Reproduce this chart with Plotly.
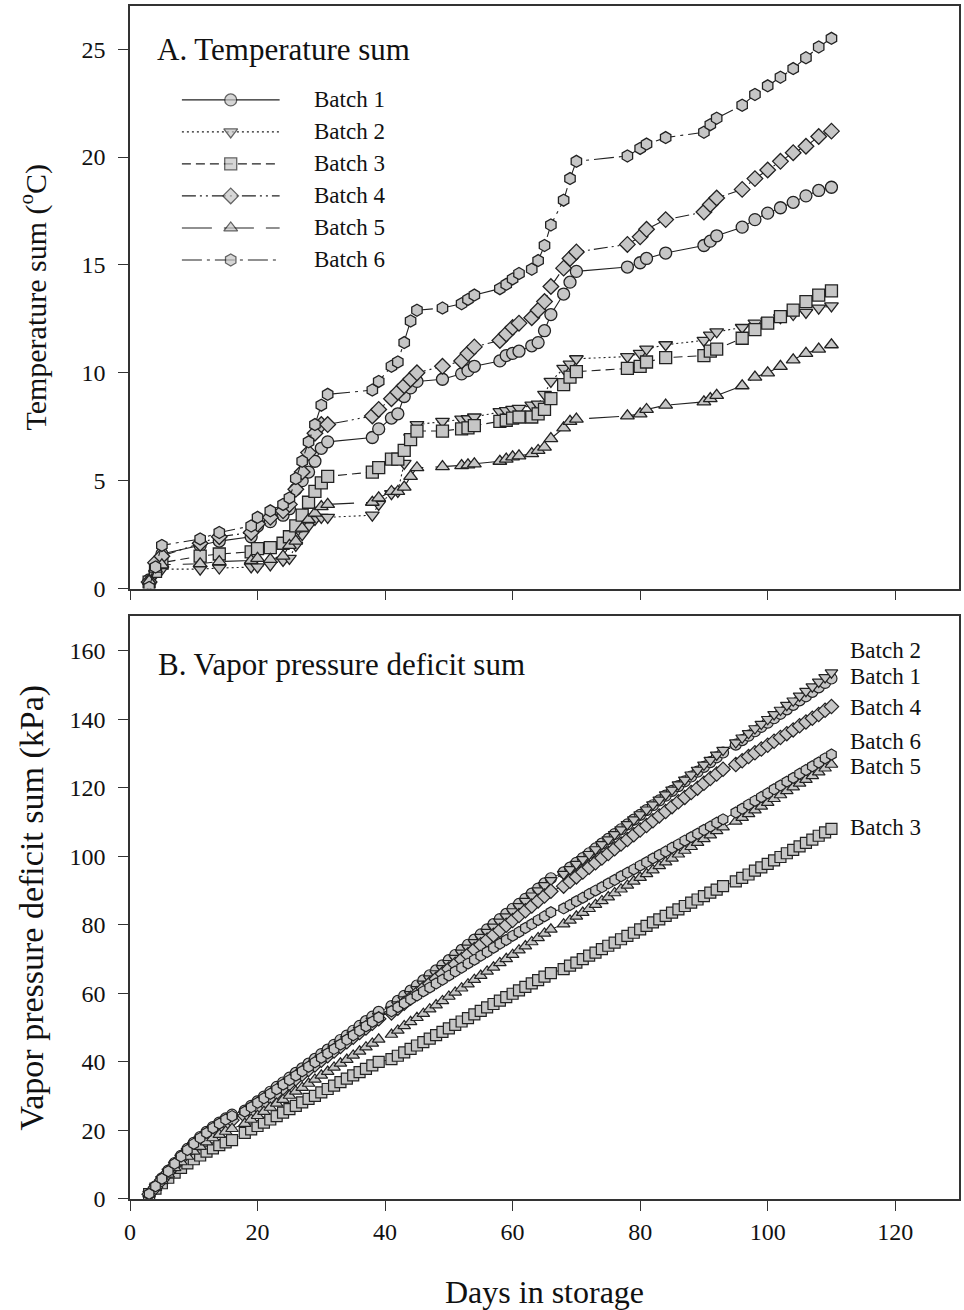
import plotly.graph_objects as go

# ---------------- Panel A data (temperature sum, °C) ----------------
days_a = [3, 4, 5, 11, 14, 19, 20, 22, 24, 25, 26, 27, 28, 29, 30, 31, 38, 39, 41, 42, 43, 44, 45,
          49, 52, 53, 54, 58, 59, 60, 61, 63, 64, 65, 66, 68, 69, 70, 78, 80, 81, 84, 90, 91, 92,
          96, 98, 100, 102, 104, 106, 108, 110]

ts_b1 = [0.4, 1.1, 1.6, 2.0, 2.2, 2.4, 2.9, 3.1, 3.4, 3.7, 4.6, 5.0, 5.4, 5.9, 6.5, 6.8, 7.0, 7.4, 7.9, 8.1, 8.9, 9.3, 9.6,
         9.7, 9.95, 10.1, 10.3, 10.55, 10.8, 10.9, 11.0, 11.25, 11.4, 11.95, 12.7, 13.65, 14.2, 14.7, 14.9, 15.1, 15.3, 15.55,
         15.9, 16.1, 16.35, 16.75, 17.1, 17.4, 17.65, 17.9, 18.2, 18.45, 18.6]
ts_b2 = [0.2, 0.7, 0.9, 0.9, 0.95, 1.0, 1.0, 1.1, 1.3, 1.4, 2.0, 2.5, 2.9, 3.2, 3.3, 3.3, 3.4, 3.9, 4.4, 4.5, 5.8, 7.0, 7.6,
         7.75, 7.85, 7.87, 7.95, 8.2, 8.25, 8.3, 8.35, 8.5, 8.55, 9.0, 9.6, 10.2, 10.4, 10.65, 10.75, 10.9, 11.1, 11.3,
         11.5, 11.75, 11.9, 12.1, 12.3, 12.4, 12.55, 12.7, 12.8, 13.0, 13.1]
ts_b3 = [0.3, 0.8, 1.2, 1.5, 1.6, 1.7, 1.85, 1.9, 2.1, 2.4, 2.9, 3.4, 4.0, 4.5, 4.9, 5.2, 5.4, 5.6, 6.0, 6.0, 6.4, 6.9, 7.3,
         7.3, 7.4, 7.45, 7.55, 7.75, 7.8, 7.9, 7.95, 7.95, 8.1, 8.3, 8.8, 9.45, 9.8, 10.05, 10.2, 10.3, 10.5, 10.7,
         10.8, 11.0, 11.1, 11.6, 12.0, 12.3, 12.6, 12.9, 13.3, 13.6, 13.8]
ts_b4 = [0.3, 1.2, 1.5, 2.1, 2.4, 2.6, 3.0, 3.3, 3.6, 3.9, 4.6, 5.4, 6.3, 7.2, 7.6, 7.6, 8.0, 8.3, 8.8, 9.1, 9.4, 9.7, 10.0,
         10.3, 10.55, 10.9, 11.2, 11.5, 11.8, 12.1, 12.3, 12.55, 12.9, 13.3, 14.0, 14.85, 15.3, 15.6, 15.95, 16.3, 16.65, 17.1,
         17.45, 17.8, 18.1, 18.5, 19.0, 19.4, 19.8, 20.2, 20.5, 20.95, 21.2]
ts_b5 = [0.35, 0.9, 1.1, 1.15, 1.25, 1.3, 1.4, 1.35, 1.5, 2.0, 2.2, 2.8, 3.2, 3.5, 3.8, 3.9, 4.0, 4.2, 4.5, 4.5, 4.7, 5.2, 5.6,
         5.65, 5.7, 5.73, 5.78, 5.9, 6.0, 6.1, 6.15, 6.25, 6.4, 6.55, 6.95, 7.45, 7.75, 7.85, 8.0, 8.1, 8.3, 8.5,
         8.65, 8.8, 8.95, 9.4, 9.8, 10.0, 10.3, 10.6, 10.9, 11.1, 11.3]
ts_b6 = [0.05, 1.0, 2.0, 2.3, 2.6, 2.9, 3.3, 3.6, 3.9, 4.2, 5.1, 5.9, 6.8, 7.6, 8.5, 9.0, 9.2, 9.6, 10.3, 10.5, 11.4, 12.4, 12.9,
         13.0, 13.2, 13.4, 13.6, 13.9, 14.1, 14.35, 14.6, 14.8, 15.2, 15.9, 16.85, 18.0, 19.0, 19.8, 20.05, 20.4, 20.6, 20.9,
         21.15, 21.5, 21.8, 22.4, 22.9, 23.3, 23.7, 24.1, 24.6, 25.1, 25.5]

# ---------------- Panel B data (VPD sum, kPa) ----------------
days_b = (list(range(3, 17)) + list(range(18, 40)) + list(range(41, 67)) +
          list(range(68, 94)) + list(range(95, 111)))

vpd_b1 = [1.5, 3.7, 6.0, 8.3, 10.5, 12.6, 14.6, 16.4, 18.1, 19.6, 21.0, 22.3, 23.5, 24.6,
          25.8, 27.2, 28.5, 29.9, 31.3, 32.7, 34.0, 35.4, 36.8, 38.1, 39.5, 40.9, 42.3, 43.6, 45.0, 46.4, 47.7, 49.1, 50.5, 51.9, 53.2, 54.6,
          56.3, 57.8, 59.3, 60.8, 62.3, 63.8, 65.3, 66.7, 68.2, 69.7, 71.2, 72.7, 74.2, 75.7, 77.2, 78.7, 80.2, 81.7, 83.2, 84.7, 86.1, 87.6, 89.1, 90.6, 92.1, 93.6,
          95.3, 96.7, 98.1, 99.5, 100.9, 102.3, 103.7, 105.1, 106.5, 107.9, 109.3, 110.7, 112.1, 113.5, 114.9, 116.3, 117.7, 119.1, 120.5, 121.9, 123.3, 124.7, 126.1, 127.5, 128.9, 130.3,
          132.6, 133.9, 135.2, 136.5, 137.8, 139.0, 140.3, 141.6, 142.9, 144.2, 145.5, 146.7, 148.0, 149.3, 150.6, 151.9]
vpd_b2 = [1.4, 3.5, 5.7, 7.9, 10.0, 12.0, 13.9, 15.7, 17.3, 18.8, 20.2, 21.4, 22.5, 23.5,
          24.8, 26.2, 27.5, 28.9, 30.2, 31.6, 33.0, 34.3, 35.7, 37.1, 38.4, 39.8, 41.1, 42.5, 43.9, 45.2, 46.6, 48.0, 49.3, 50.7, 52.0, 53.4,
          55.2, 56.7, 58.2, 59.7, 61.2, 62.8, 64.3, 65.8, 67.3, 68.8, 70.3, 71.8, 73.3, 74.9, 76.4, 77.9, 79.4, 80.9, 82.4, 83.9, 85.4, 86.9, 88.5, 90.0, 91.5, 93.0,
          94.8, 96.2, 97.7, 99.1, 100.6, 102.0, 103.5, 104.9, 106.4, 107.8, 109.3, 110.7, 112.2, 113.6, 115.1, 116.5, 118.0, 119.4, 120.9, 122.3, 123.8, 125.2, 126.7, 128.1, 129.6, 131.0,
          133.2, 134.6, 135.9, 137.3, 138.6, 140.0, 141.4, 142.7, 144.1, 145.4, 146.8, 148.2, 149.5, 150.9, 152.2, 153.6]
vpd_b3 = [1.4, 3.0, 4.6, 6.2, 7.7, 9.1, 10.4, 11.6, 12.7, 13.8, 14.8, 15.7, 16.5, 17.2,
          19.3, 20.3, 21.3, 22.3, 23.2, 24.2, 25.2, 26.2, 27.2, 28.2, 29.2, 30.1, 31.1, 32.1, 33.1, 34.1, 35.1, 36.1, 37.0, 38.0, 39.0, 40.0,
          40.8, 41.8, 42.8, 43.8, 44.8, 45.8, 46.8, 47.8, 48.8, 49.8, 50.8, 51.8, 52.8, 53.9, 54.9, 55.9, 56.9, 57.9, 58.9, 59.9, 60.9, 61.9, 62.9, 63.9, 64.9, 65.9,
          67.1, 68.1, 69.0, 70.0, 71.0, 71.9, 72.9, 73.9, 74.8, 75.8, 76.8, 77.7, 78.7, 79.7, 80.7, 81.6, 82.6, 83.6, 84.5, 85.5, 86.5, 87.4, 88.4, 89.4, 90.3, 91.3,
          92.7, 93.7, 94.7, 95.8, 96.8, 97.8, 98.8, 99.8, 100.9, 101.9, 102.9, 103.9, 104.9, 106.0, 107.0, 108.0]
vpd_b4 = [1.4, 3.4, 5.6, 7.7, 9.8, 11.8, 13.7, 15.4, 17.0, 18.5, 19.9, 21.1, 22.1, 23.0,
          24.3, 25.6, 27.0, 28.3, 29.7, 31.0, 32.4, 33.7, 35.1, 36.4, 37.8, 39.1, 40.5, 41.8, 43.2, 44.5, 45.9, 47.2, 48.6, 49.9, 51.3, 52.6,
          54.3, 55.7, 57.1, 58.6, 60.0, 61.4, 62.8, 64.2, 65.7, 67.1, 68.5, 69.9, 71.3, 72.8, 74.2, 75.6, 77.0, 78.4, 79.9, 81.3, 82.7, 84.1, 85.5, 87.0, 88.4, 89.8,
          91.3, 92.7, 94.0, 95.4, 96.8, 98.1, 99.5, 100.8, 102.2, 103.6, 104.9, 106.3, 107.7, 109.0, 110.4, 111.8, 113.1, 114.5, 115.9, 117.2, 118.6, 119.9, 121.3, 122.7, 124.0, 125.4,
          126.8, 127.9, 129.1, 130.2, 131.3, 132.4, 133.6, 134.7, 135.8, 136.9, 138.1, 139.2, 140.3, 141.4, 142.6, 143.7]
vpd_b5 = [1.4, 3.3, 5.3, 7.2, 9.1, 10.8, 12.4, 13.9, 15.3, 16.6, 17.8, 18.8, 19.7, 20.5,
          22.0, 23.2, 24.3, 25.5, 26.7, 27.9, 29.0, 30.2, 31.4, 32.5, 33.7, 34.9, 36.1, 37.2, 38.4, 39.6, 40.7, 41.9, 43.1, 44.3, 45.4, 46.6,
          48.0, 49.2, 50.5, 51.7, 52.9, 54.1, 55.4, 56.6, 57.8, 59.1, 60.3, 61.5, 62.7, 64.0, 65.2, 66.4, 67.6, 68.9, 70.1, 71.3, 72.6, 73.8, 75.0, 76.2, 77.5, 78.7,
          80.2, 81.3, 82.5, 83.6, 84.7, 85.9, 87.0, 88.1, 89.3, 90.4, 91.5, 92.7, 93.8, 94.9, 96.0, 97.2, 98.3, 99.4, 100.6, 101.7, 102.8, 104.0, 105.1, 106.2, 107.4, 108.5,
          110.2, 111.3, 112.4, 113.5, 114.6, 115.7, 116.8, 117.9, 119.1, 120.2, 121.3, 122.4, 123.5, 124.6, 125.7, 126.8]
vpd_b6 = [1.5, 3.7, 5.9, 8.1, 10.3, 12.4, 14.3, 16.1, 17.8, 19.3, 20.7, 22.0, 23.2, 24.2,
          25.5, 26.8, 28.1, 29.4, 30.7, 32.0, 33.4, 34.7, 36.0, 37.3, 38.6, 39.9, 41.2, 42.5, 43.8, 45.1, 46.5, 47.8, 49.1, 50.4, 51.7, 53.0,
          54.8, 56.0, 57.1, 58.3, 59.4, 60.6, 61.7, 62.9, 64.0, 65.2, 66.4, 67.5, 68.7, 69.8, 71.0, 72.1, 73.3, 74.5, 75.6, 76.8, 77.9, 79.1, 80.2, 81.4, 82.5, 83.7,
          84.8, 85.8, 86.9, 87.9, 89.0, 90.0, 91.0, 92.1, 93.1, 94.2, 95.2, 96.2, 97.3, 98.3, 99.4, 100.4, 101.4, 102.5, 103.5, 104.6, 105.6, 106.6, 107.7, 108.7, 109.8, 110.8,
          112.8, 113.9, 115.1, 116.2, 117.3, 118.4, 119.6, 120.7, 121.8, 122.9, 124.1, 125.2, 126.3, 127.4, 128.6, 129.7]

batch_names = ["Batch 1", "Batch 2", "Batch 3", "Batch 4", "Batch 5", "Batch 6"]
ts_series = [ts_b1, ts_b2, ts_b3, ts_b4, ts_b5, ts_b6]
vpd_series = [vpd_b1, vpd_b2, vpd_b3, vpd_b4, vpd_b5, vpd_b6]
# end-of-curve labels for panel B (text and value level)
vpd_label_text = ["Batch 2", "Batch 1", "Batch 4", "Batch 6", "Batch 5", "Batch 3"]
vpd_label_level = [160.0, 152.5, 143.4, 133.5, 126.2, 108.5]

x_ticks = [0, 20, 40, 60, 80, 100, 120]
ya_ticks = [0, 5, 10, 15, 20, 25]
yb_ticks = [0, 20, 40, 60, 80, 100, 120, 140, 160]

# ---------------- styles ----------------
symbols = ["circle", "triangle-down", "square", "diamond", "triangle-up", "hexagon"]
dashes = ["solid", "2px,3px", "9px,5px", "14px,4px,2px,4px,2px,4px", "30px,12px", "20px,5px,3px,5px"]
FILL = "#c6c6c6"
EDGE = "#222222"
FONT = "Liberation Serif"

fig = go.Figure()

for i in range(6):
    fig.add_trace(go.Scatter(
        x=days_a, y=ts_series[i], mode="lines+markers", showlegend=False,
        line=dict(color=EDGE, width=1.1, dash=dashes[i]),
        marker=dict(symbol=symbols[i], size=12, color=FILL, line=dict(color=EDGE, width=1.3)),
        xaxis="x", yaxis="y"))

for i in range(6):
    fig.add_trace(go.Scatter(
        x=days_b, y=vpd_series[i], mode="lines+markers", showlegend=False,
        line=dict(color=EDGE, width=1.0, dash=dashes[i]),
        marker=dict(symbol=symbols[i], size=11, color=FILL, line=dict(color=EDGE, width=1.2)),
        xaxis="x2", yaxis="y2"))

# manual legend for panel A on an overlay axis (0..1 frame)
leg_y = [0.8388, 0.7839, 0.729, 0.674, 0.619, 0.564]
for i in range(6):
    fig.add_trace(go.Scatter(
        x=[0.0626, 0.1215, 0.1805], y=[leg_y[i]] * 3, mode="lines+markers", showlegend=False,
        line=dict(color=EDGE, width=1.1, dash=dashes[i]),
        marker=dict(symbol=symbols[i], size=[0, 12, 0], color=FILL, line=dict(color=EDGE, width=1.3)),
        xaxis="x3", yaxis="y3", hoverinfo="skip"))
    fig.add_annotation(x=0.219, y=leg_y[i], xref="x3", yref="y3", text=batch_names[i],
                       showarrow=False, xanchor="left", yanchor="middle",
                       font=dict(family=FONT, size=23, color="#111"))

for t, lv in zip(vpd_label_text, vpd_label_level):
    fig.add_annotation(x=112.6, y=lv, xref="x2", yref="y2", text=t, showarrow=False,
                       xanchor="left", yanchor="middle", font=dict(family=FONT, size=23, color="#111"))

fig.add_annotation(x=0.030, y=0.925, xref="x3", yref="y3", text="A. Temperature sum", showarrow=False,
                   xanchor="left", yanchor="middle", font=dict(family=FONT, size=31, color="#111"))
fig.add_annotation(x=4.0, y=156.0, xref="x2", yref="y2", text="B. Vapor pressure deficit sum", showarrow=False,
                   xanchor="left", yanchor="middle", font=dict(family=FONT, size=31, color="#111"))

axis_common = dict(showline=True, linecolor="#333", linewidth=1.5, mirror=True, ticks="outside",
                   ticklen=10, tickwidth=1.3, tickcolor="#333", showgrid=False, zeroline=False,
                   tickfont=dict(family=FONT, size=24, color="#111"))

dom_a = [0.5117, 1.0]
dom_b = [0.0, 0.4883]

fig.update_layout(
    width=964, height=1310,
    margin=dict(l=130, r=3, t=6, b=108),
    paper_bgcolor="white", plot_bgcolor="white",
    font=dict(family=FONT, color="#111"),
    xaxis=dict(domain=[0, 1], anchor="y", range=[0, 130], tickvals=x_ticks, showticklabels=False, **axis_common),
    yaxis=dict(domain=dom_a, anchor="x", range=[0, 27], tickvals=ya_ticks, ticklabelstandoff=8,
               title=dict(text="Temperature sum (<sup>o</sup>C)", font=dict(family=FONT, size=30), standoff=26),
               **axis_common),
    xaxis2=dict(domain=[0, 1], anchor="y2", range=[0, 130], tickvals=x_ticks, ticklabelstandoff=0,
                title=dict(text="Days in storage", font=dict(family=FONT, size=32), standoff=40),
                **axis_common),
    yaxis2=dict(domain=dom_b, anchor="x2", range=[0, 170], tickvals=yb_ticks, ticklabelstandoff=8,
                title=dict(text="Vapor pressure deficit sum (kPa)", font=dict(family=FONT, size=34), standoff=16),
                **axis_common),
    xaxis3=dict(domain=[0, 1], anchor="y3", range=[0, 1], visible=False, overlaying="x"),
    yaxis3=dict(domain=dom_a, anchor="x3", range=[0, 1], visible=False, overlaying="y"),
)

fig.write_html("out.html")
